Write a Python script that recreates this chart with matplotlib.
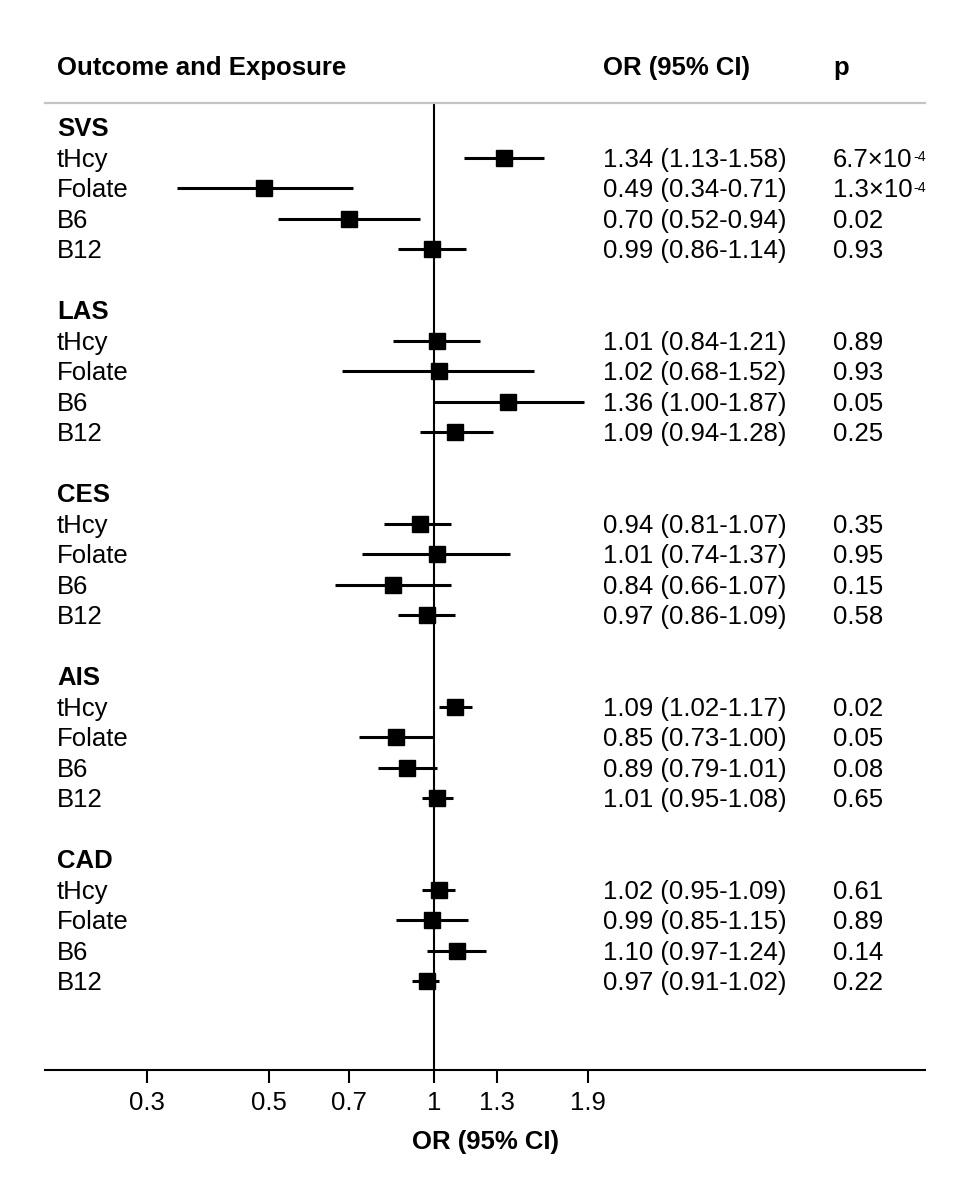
import numpy as np
import matplotlib
matplotlib.use("Agg")
import matplotlib.pyplot as plt
import matplotlib.transforms as mtransforms

plt.rcParams['font.family'] = ['Liberation Sans', 'DejaVu Sans']

outcomes = ["SVS", "LAS", "CES", "AIS", "CAD"]
exposures = ["tHcy", "Folate", "B6", "B12"]

odds = [
    [1.34, 0.49, 0.70, 0.99],
    [1.01, 1.02, 1.36, 1.09],
    [0.94, 1.01, 0.84, 0.97],
    [1.09, 0.85, 0.89, 1.01],
    [1.02, 0.99, 1.10, 0.97],
]
ci_low = [
    [1.13, 0.34, 0.52, 0.86],
    [0.84, 0.68, 1.00, 0.94],
    [0.81, 0.74, 0.66, 0.86],
    [1.02, 0.73, 0.79, 0.95],
    [0.95, 0.85, 0.97, 0.91],
]
ci_high = [
    [1.58, 0.71, 0.94, 1.14],
    [1.21, 1.52, 1.87, 1.28],
    [1.07, 1.37, 1.07, 1.09],
    [1.17, 1.00, 1.01, 1.08],
    [1.09, 1.15, 1.24, 1.02],
]
pvals = [
    [6.7e-4, 1.3e-4, 0.02, 0.93],
    [0.89, 0.93, 0.05, 0.25],
    [0.35, 0.95, 0.15, 0.58],
    [0.02, 0.05, 0.08, 0.65],
    [0.61, 0.89, 0.14, 0.22],
]
xticks = [0.3, 0.5, 0.7, 1, 1.3, 1.9]
xticklabels = ["0.3", "0.5", "0.7", "1", "1.3", "1.9"]


def fmt_p(p):
    if p < 0.001:
        e = int(np.floor(np.log10(p)))
        m = p / 10 ** e
        return f"{m:.1f}×10", f"-{abs(e)}"
    return f"{p:.2f}", None


W, H = 960, 1200
fig = plt.figure(figsize=(W / 100, H / 100), dpi=100)
ax = fig.add_axes([45 / W, 1 - 1070 / H, 880 / W, (1070 - 103) / H])

FS = 18.5
DY = 0.3  # baseline sits a bit below the row centre
trans = mtransforms.blended_transform_factory(fig.transFigure, ax.transData)

for g, name in enumerate(outcomes):
    base = g * 6
    ax.text(57 / W, base + DY, name, transform=trans, fontsize=FS, fontweight='bold',
            va='baseline', ha='left')
    for k, ex in enumerate(exposures):
        y = base + 1 + k
        ax.hlines(y, ci_low[g][k], ci_high[g][k], color='black', lw=2.2, zorder=3)
        ax.plot(odds[g][k], y, 's', color='black', ms=11, zorder=4)
        ax.text(57 / W, y + DY, ex, transform=trans, fontsize=FS, va='baseline', ha='left')
        ax.text(603 / W, y + DY, f"{odds[g][k]:.2f} ({ci_low[g][k]:.2f}-{ci_high[g][k]:.2f})",
                transform=trans, fontsize=FS, va='baseline', ha='left')
        ptxt, sup = fmt_p(pvals[g][k])
        t = ax.text(833 / W, y + DY, ptxt, transform=trans, fontsize=FS,
                    va='baseline', ha='left')
        if sup:
            ax.annotate(sup, xy=(1, 1), xycoords=t, xytext=(0.5, -2),
                        textcoords='offset points', fontsize=FS * 0.55,
                        va='top', ha='left')

# header
fig.text(57 / W, 1 - 68 / H, "Outcome and Exposure", fontsize=FS, fontweight='bold', va='center')
fig.text(603 / W, 1 - 68 / H, "OR (95% CI)", fontsize=FS, fontweight='bold', va='center')
fig.text(833 / W, 1 - 68 / H, "p", fontsize=FS, fontweight='bold', va='center')

ax.axvline(1, color='black', lw=1.5, zorder=2)

ax.set_xscale('log')
ax.set_xlim(0.196, 7.79)
ax.set_ylim((1070 - 127) / 30.5, (103 - 127) / 30.5)
ax.set_xticks(xticks)
ax.set_xticklabels(xticklabels, fontsize=FS)
ax.xaxis.set_minor_locator(matplotlib.ticker.NullLocator())
ax.tick_params(axis='x', length=9, width=1.5, pad=6)
ax.set_yticks([])

for s in ['left', 'right']:
    ax.spines[s].set_visible(False)
ax.spines['top'].set_color('#c4c4c4')
ax.spines['top'].set_linewidth(1.6)
ax.spines['bottom'].set_linewidth(1.5)

ax.set_xlabel("OR (95% CI)", fontsize=FS, fontweight='bold', labelpad=11)

fig.savefig("out.png", dpi=100)
